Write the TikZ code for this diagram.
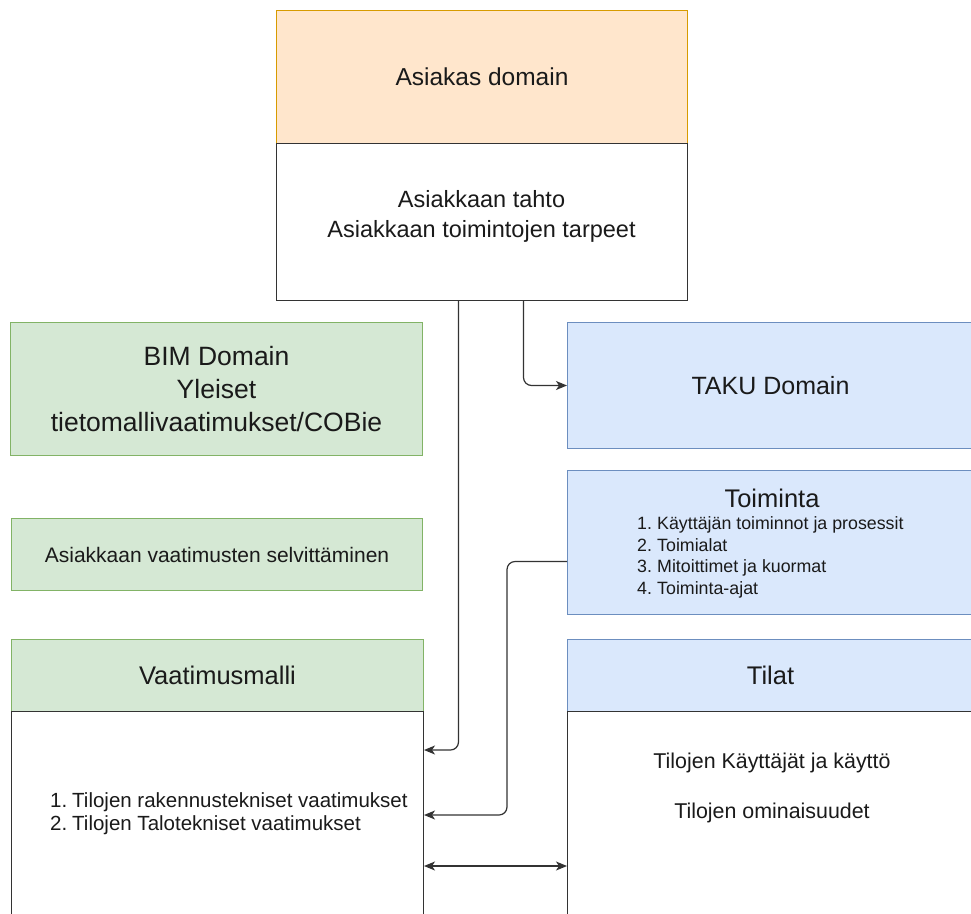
\documentclass[tikz,border=0pt]{standalone}
\usepackage{fontspec}
\setmainfont{Liberation Sans}
\usetikzlibrary{arrows.meta}
\definecolor{orfill}{HTML}{FFE6CC}
\definecolor{orline}{HTML}{D79B00}
\definecolor{grfill}{HTML}{D5E8D4}
\definecolor{grline}{HTML}{82B366}
\definecolor{blfill}{HTML}{DAE8FC}
\definecolor{blline}{HTML}{6C8EBF}
\definecolor{ink}{HTML}{1A1A1A}
\definecolor{edgecol}{HTML}{333333}
\begin{document}
\begin{tikzpicture}[x=1pt,y=-1pt,
  box/.style={draw, rectangle, inner sep=0pt, anchor=north west, line width=1pt, text=ink, align=center},
  txt/.style={text=ink, inner sep=0pt, align=center},
  conn/.style={draw=edgecol, line width=1.2pt, rounded corners=8pt, -{Stealth[length=11pt,width=9pt,inset=3pt]}},
  bothconn/.style={draw=edgecol, line width=1.2pt, {Stealth[length=11pt,width=9pt,inset=3pt]}-{Stealth[length=11pt,width=9pt,inset=3pt]}}
]
\useasboundingbox (0,0) rectangle (971,913);
\clip (0,0) rectangle (971,913);
\fill[white] (0,0) rectangle (971,913);
% top box
\node[box, draw=orline, fill=orfill, minimum width=411pt, minimum height=133pt, font=\fontsize{24.5}{30}\selectfont] (ahead) at (276,10) {Asiakas domain};
\node[box, draw=edgecol, fill=white, minimum width=411pt, minimum height=157pt] (abody) at (276,143) {};
\node[txt, font=\fontsize{23.5}{30}\selectfont] (atext) at (481.5,216) {Asiakkaan tahto\\Asiakkaan toimintojen tarpeet};
% left green boxes
\node[box, draw=grline, fill=grfill, minimum width=412pt, minimum height=133pt, font=\fontsize{26.5}{33}\selectfont] (bim) at (10,322) {BIM Domain\\Yleiset\\tietomallivaatimukset/COBie};
\node[box, draw=grline, fill=grfill, minimum width=411pt, minimum height=72pt, font=\fontsize{21}{26}\selectfont] (selv) at (11,518) {Asiakkaan vaatimusten selvittäminen};
% right blue boxes
\node[box, draw=blline, fill=blfill, minimum width=406pt, minimum height=126pt, font=\fontsize{25}{30}\selectfont] (taku) at (567,322) {TAKU Domain};
\node[box, draw=blline, fill=blfill, minimum width=406pt, minimum height=144pt] (toim) at (567,470) {};
\node[txt, font=\fontsize{25.5}{30}\selectfont] (toimtitle) at (772,498) {Toiminta};
\node[txt, anchor=west, align=left, font=\fontsize{17.8}{21.7}\selectfont] (toimlist) at (637,557.5) {\makebox[20pt][l]{1.}Käyttäjän toiminnot ja prosessit\\\makebox[20pt][l]{2.}Toimialat\\\makebox[20pt][l]{3.}Mitoittimet ja kuormat\\\makebox[20pt][l]{4.}Toiminta-ajat};
% bottom boxes
\node[box, draw=grline, fill=grfill, minimum width=412pt, minimum height=72pt, font=\fontsize{25.5}{30}\selectfont] (vhead) at (11,639) {Vaatimusmalli};
\node[box, draw=edgecol, fill=white, minimum width=412pt, minimum height=230pt] (vbody) at (11,711) {};
\node[txt, anchor=west, align=left, font=\fontsize{20.5}{23}\selectfont] (vlist) at (50,813.5) {\makebox[22pt][l]{1.}Tilojen rakennustekniset vaatimukset\\\makebox[22pt][l]{2.}Tilojen Talotekniset vaatimukset};
\node[box, draw=blline, fill=blfill, minimum width=406pt, minimum height=72pt, font=\fontsize{25.5}{30}\selectfont] (thead) at (567,639) {Tilat};
\node[box, draw=edgecol, fill=white, minimum width=406pt, minimum height=230pt] (tbody) at (567,711) {};
\node[txt, font=\fontsize{21.4}{50}\selectfont] (ttext) at (772,788) {Tilojen Käyttäjät ja käyttö\\Tilojen ominaisuudet};
% connectors
\draw[conn] ([xshift=-23.5pt]abody.south) |- ([yshift=-39pt]vbody.north east);
\draw[conn] ([xshift=41.5pt]abody.south) |- (taku.west);
\draw[conn] ([yshift=-19pt]toim.west) -- ++(-60,0) |- ([yshift=-104pt]vbody.north east);
\draw[bothconn] ([yshift=-155pt]vbody.north east) -- ([yshift=-155pt]tbody.north west);
\end{tikzpicture}
\end{document}
